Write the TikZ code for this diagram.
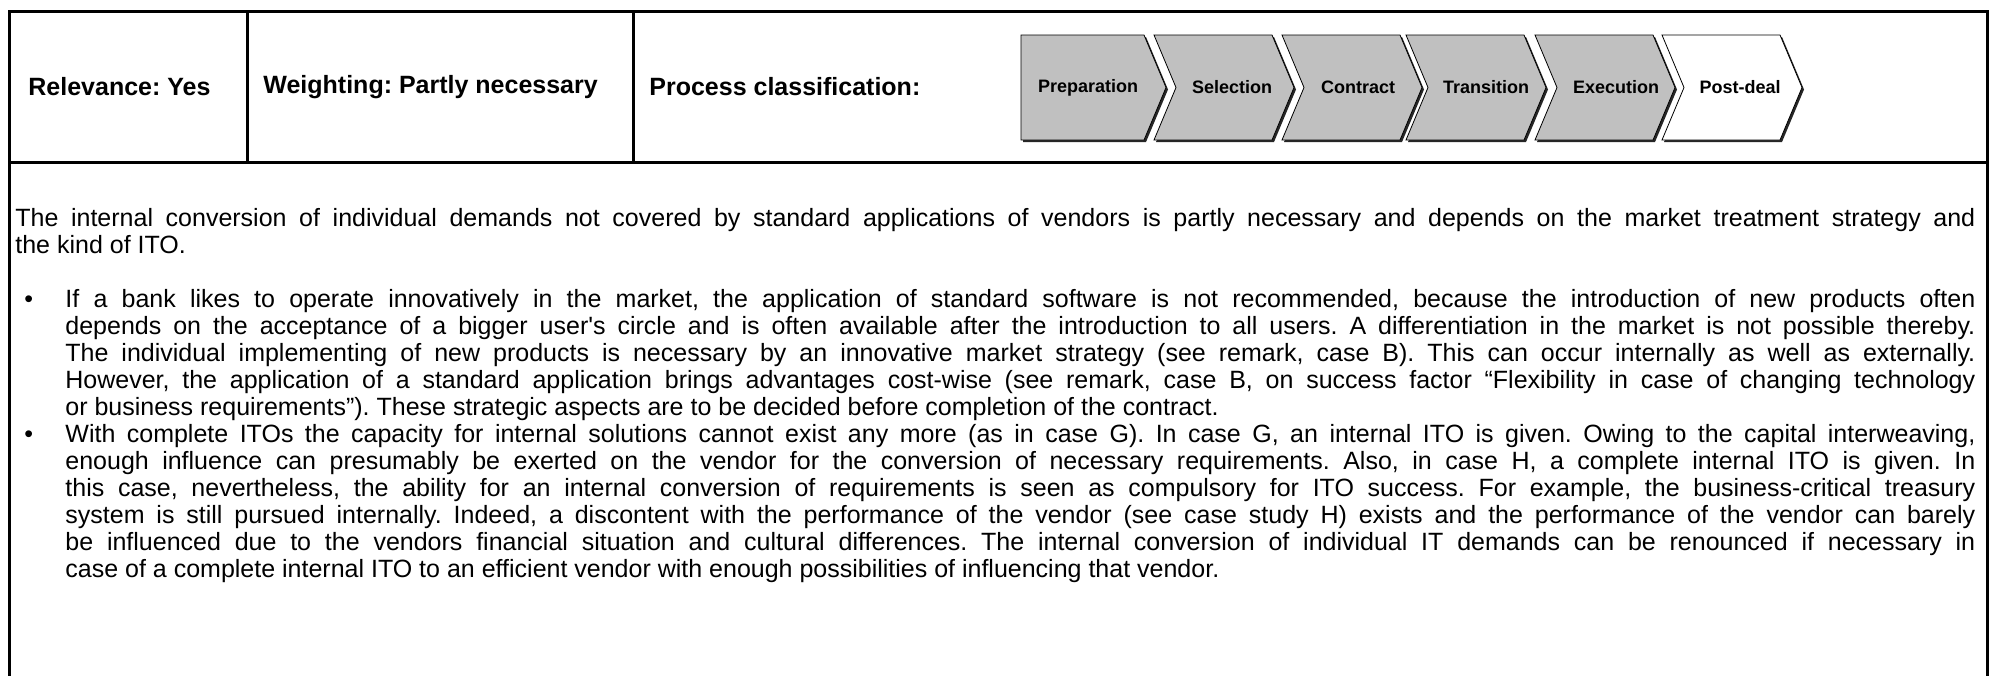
\documentclass[tikz,border=0pt]{standalone}
\usepackage{fontspec}
\setmainfont{Liberation Sans}
\definecolor{chevgray}{HTML}{C0C0C0}
% phase chevrons: #1 = x of the lower left corner
\newcommand\headchev[1]{(#1,35) -- ++(123,0) -- ++(22,52.5) -- ++(-22,52.5) -- ++(-123,0) -- cycle}
\newcommand\notchchev[1]{(#1,35) -- ++(118,0) -- ++(22,52.5) -- ++(-22,52.5) -- ++(-118,0) -- ++(22,-52.5) -- cycle}
\begin{document}
\frenchspacing
\begin{tikzpicture}[x=0.5pt,y=-0.5pt,
  frame/.style={line width=1.5pt, line cap=rect},
  hdr/.style={font=\bfseries\fontsize{12.5}{15}\selectfont, anchor=west, inner sep=0},
  phase/.style={fill=#1, draw=black, line width=0.4pt},
  phaseshadow/.style={fill=black!85},
  phaselbl/.style={font=\bfseries\fontsize{9}{10}\selectfont, inner sep=0},
  bodytext/.style={font=\fontsize{12.5}{13.5}\selectfont, align=justify, inner sep=0, anchor=base west},
  bulletmark/.style={font=\fontsize{12.5}{13.5}\selectfont, inner sep=0, anchor=base west},
]
\useasboundingbox (0,0) rectangle (1991,675);
\clip (0,0) rectangle (1991,675);

% table frame
\draw[frame] (9,700) -- (9,11) -- (1987,11) -- (1987,700);
\draw[frame] (9,162) -- (1987,162);
\draw[frame] (247,11) -- (247,162);
\draw[frame] (633,11) -- (633,162);

% header cells
\node[hdr] (rel) at (28,87) {Relevance: Yes};
\node[hdr] (wgt) at (263,87) {Weighting: Partly necessary};
\node[hdr] (proc) at (649,87) {Process classification:};

% process phases
\begin{scope}[shift={(2,2)}]
  \fill[phaseshadow] \headchev{1021};
  \foreach \x in {1154,1282,1406,1535,1662} \fill[phaseshadow] \notchchev{\x};
\end{scope}
\path[phase=chevgray] \headchev{1021};
\foreach \x in {1154,1282,1406,1535} \path[phase=chevgray] \notchchev{\x};
\path[phase=white] \notchchev{1662};

\node[phaselbl] (prep) at (1088,87.5) {Preparation};
\node[phaselbl] (sel)  at (1232,87.5) {Selection};
\node[phaselbl] (con)  at (1358,87.5) {Contract};
\node[phaselbl] (tra)  at (1486,87.5) {Transition};
\node[phaselbl] (exe)  at (1616,87.5) {Execution};
\node[phaselbl] (post) at (1740,87.5) {Post-deal};

% remark text
\node[bodytext, text width=980pt] (intro) at (15,226) {The internal conversion of individual demands not covered by standard applications of vendors is partly necessary and depends on the market treatment strategy and\linebreak the kind of ITO.};

\node[bulletmark] (b1) at (24,307) {•};
\node[bodytext, text width=955pt] (p1) at (65,307) {If a bank likes to operate innovatively in the market, the application of standard software is not recommended, because the introduction of new products often\linebreak depends on the acceptance of a bigger user\textquotesingle s circle and is often available after the introduction to all users. A differentiation in the market is not possible thereby.\linebreak The individual implementing of new products is necessary by an innovative market strategy (see remark, case B). This can occur internally as well as externally.\linebreak However, the application of a standard application brings advantages cost-wise (see remark, case B, on success factor “Flexibility in case of changing technology\linebreak or business requirements”). These strategic aspects are to be decided before completion of the contract.};

\node[bulletmark] (b2) at (24,442) {•};
\node[bodytext, text width=955pt] (p2) at (65,442) {With complete ITOs the capacity for internal solutions cannot exist any more (as in case G). In case G, an internal ITO is given. Owing to the capital interweaving,\linebreak enough influence can presumably be exerted on the vendor for the conversion of necessary requirements. Also, in case H, a complete internal ITO is given. In\linebreak this case, nevertheless, the ability for an internal conversion of requirements is seen as compulsory for ITO success. For example, the business-critical treasury\linebreak system is still pursued internally. Indeed, a discontent with the performance of the vendor (see case study H) exists and the performance of the vendor can barely\linebreak be influenced due to the vendors financial situation and cultural differences. The internal conversion of individual IT demands can be renounced if necessary in\linebreak case of a complete internal ITO to an efficient vendor with enough possibilities of influencing that vendor.};
\end{tikzpicture}
\end{document}
